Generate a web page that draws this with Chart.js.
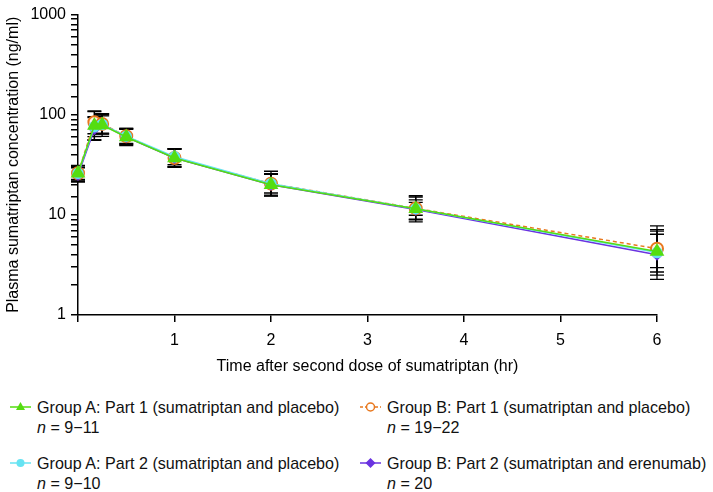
<!DOCTYPE html>
<html>
<head>
<meta charset="utf-8">
<script src="https://cdn.jsdelivr.net/npm/chart.js@4"></script>
<style>
  body { margin: 0; background: #fff; font-family: "Liberation Sans", Arial, sans-serif; }
  #wrap { position: relative; width: 713px; height: 492px; overflow: hidden; }
  #chartBox { position: absolute; left: 0; top: 0; width: 713px; height: 380px; }
  .leg { position: absolute; font-size: 16.1px; line-height: 20px; color: #111; white-space: nowrap; }
  .leg svg { position: absolute; left: -27px; top: 3px; }
  .leg i { font-style: italic; }
</style>
</head>
<body>
<div id="wrap">
  <div id="chartBox"><canvas id="chart"></canvas></div>
  <div id="legend"></div>
</div>
<script>
// time after second dose (hr)
const times = [0, 0.17, 0.25, 0.5, 1, 2, 3.5, 6];

// mean plasma concentration (ng/ml)
const groupA1 = [26, 78, 79, 60, 37, 20, 11.5, 4.3];
const groupB1 = [26, 84, 81, 61, 37, 20.5, 11.6, 4.6];
const groupA2 = [26, 76, 80, 61, 38, 20.5, 11.5, 4.2];
const groupB2 = [25, 72, 80, 60, 37, 20, 11.3, 4.0];

// geometric SD factors (bar = mean*f .. mean/f)
const gsdA1 = [1.20, 1.38, 1.30, 1.22, 1.23, 1.29, 1.35, 1.60];
const gsdB1 = [1.19, 1.30, 1.26, 1.20, 1.24, 1.33, 1.30, 1.55];
const gsdA2 = [1.15, 1.26, 1.22, 1.18, 1.20, 1.24, 1.16, 1.85];
const gsdB2 = [1.18, 1.30, 1.25, 1.19, 1.22, 1.27, 1.25, 1.60];

const labels = [
  "Group A: Part 1 (sumatriptan and placebo)",
  "Group B: Part 1 (sumatriptan and placebo)",
  "Group A: Part 2 (sumatriptan and placebo)",
  "Group B: Part 2 (sumatriptan and erenumab)"
];
const nLabels = ["9\u221211", "19\u221222", "9\u221210", "20"];

const yTicks = [1, 10, 100, 1000];
const xTicks = [0, 1, 2, 3, 4, 5, 6];

const green = "#55dd11";
const orange = "#e8781e";
const cyan = "#66e3f2";
const purple = "#6a33e0";

const pts = (arr) => arr.map((v, i) => ({ x: times[i], y: v }));

// black error bars, drawn through the chart's own scales
const errorBars = {
  id: "errorBars",
  beforeDatasetsDraw(chart) {
    const { ctx, scales: { x, y } } = chart;
    ctx.save();
    ctx.strokeStyle = "#000";
    ctx.lineWidth = 1.3;
    chart.data.datasets.forEach((ds) => {
      ds.data.forEach((p, i) => {
        const f = ds.gsd[i];
        const px = x.getPixelForValue(p.x);
        const hi = y.getPixelForValue(p.y * f);
        const lo = y.getPixelForValue(p.y / f);
        ctx.beginPath();
        ctx.moveTo(px, hi); ctx.lineTo(px, lo);
        ctx.moveTo(px - 7, hi); ctx.lineTo(px + 7, hi);
        ctx.moveTo(px - 7, lo); ctx.lineTo(px + 7, lo);
        ctx.stroke();
      });
    });
    ctx.restore();
  }
};

const font = { family: "'Liberation Sans', Arial, sans-serif", size: 16 };

new Chart(document.getElementById("chart"), {
  type: "line",
  data: {
    datasets: [
      { label: labels[0], data: pts(groupA1), gsd: gsdA1, borderColor: green, backgroundColor: green,
        pointStyle: "triangle", pointRadius: 7, borderWidth: 1.5, clip: false, order: 0 },
      { label: labels[2], data: pts(groupA2), gsd: gsdA2, borderColor: cyan, backgroundColor: cyan,
        pointStyle: "circle", pointRadius: 5, borderWidth: 1.5, clip: false, order: 1 },
      { label: labels[3], data: pts(groupB2), gsd: gsdB2, borderColor: purple, backgroundColor: purple,
        pointStyle: "rectRot", pointRadius: 5, borderWidth: 1.5, clip: false, order: 2 },
      { label: labels[1], data: pts(groupB1), gsd: gsdB1, borderColor: orange, backgroundColor: "#fff3e6",
        pointStyle: "circle", pointRadius: 6, pointBorderWidth: 2, borderWidth: 1.5, borderDash: [4, 3],
        clip: false, order: 3 }
    ]
  },
  options: {
    responsive: true,
    maintainAspectRatio: false,
    animation: false,
    layout: { padding: { top: 8, right: 56, left: 0, bottom: 0 } },
    plugins: { legend: { display: false }, tooltip: { enabled: false } },
    scales: {
      x: {
        type: "linear",
        min: 0,
        max: 6,
        afterBuildTicks: (s) => { s.ticks = xTicks.map((v) => ({ value: v })); },
        afterFit: (s) => { s.height = 65; },
        border: { color: "#000", width: 1.5 },
        grid: { drawOnChartArea: false, color: "#000", lineWidth: 1.5, tickLength: 7 },
        ticks: { color: "#000", font, padding: 9, callback: (v) => (v === 0 ? "" : v) },
        title: { display: true, text: "Time after second dose of sumatriptan (hr)", color: "#000", font, padding: { top: 9 } }
      },
      y: {
        type: "logarithmic",
        min: 1,
        max: 1000,
        afterFit: (s) => { s.width = 78; },
        border: { color: "#000", width: 1.5 },
        grid: { drawOnChartArea: false, color: "#000", lineWidth: 1.5, tickLength: 7 },
        ticks: {
          color: "#000", font, padding: 5, autoSkip: false,
          callback: (v) => (yTicks.includes(v) ? String(v) : "")
        },
        title: { display: true, text: "Plasma sumatriptan concentration (ng/ml)", color: "#000", font, padding: { bottom: 0 } }
      }
    }
  },
  plugins: [errorBars]
});

// legend with italic n, two columns
const icons = [
  `<polygon points="10.5,2 15,10 6,10" fill="${green}"/>`,
  `<circle cx="10.5" cy="7" r="4" fill="#fff" stroke="${orange}" stroke-width="1.5"/>`,
  `<circle cx="10.5" cy="7" r="4" fill="${cyan}"/>`,
  `<polygon points="10.5,2 15.5,7 10.5,12 5.5,7" fill="${purple}"/>`
];
const lineColors = [green, orange, cyan, purple];
const legPos = [[37, 397], [387, 397], [37, 453], [387, 453]];
const legendEl = document.getElementById("legend");
labels.forEach((t, i) => {
  const d = document.createElement("div");
  d.className = "leg";
  d.style.left = legPos[i][0] + "px";
  d.style.top = legPos[i][1] + "px";
  const dash = i === 1 ? ' stroke-dasharray="3,2"' : "";
  d.innerHTML =
    `<svg width="22" height="14"><line x1="0" y1="7" x2="21" y2="7" stroke="${lineColors[i]}" stroke-width="1.5"${dash}/>${icons[i]}</svg>` +
    `${t}<br><i>n</i> = ${nLabels[i]}`;
  legendEl.appendChild(d);
});
</script>
</body>
</html>
